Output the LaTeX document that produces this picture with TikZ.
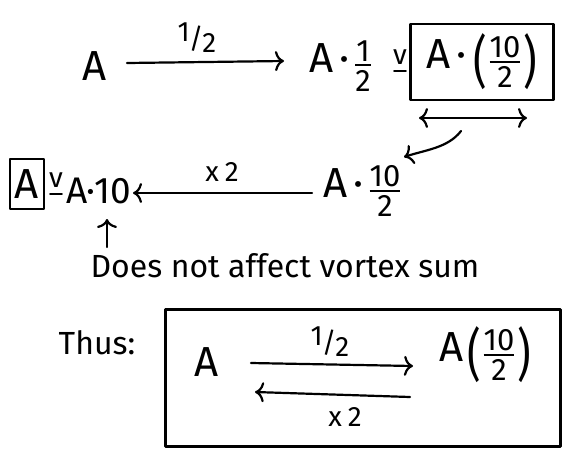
\documentclass[tikz,border=0pt]{standalone}
\usepackage{graphicx}
\usepackage{fontspec}
\setmainfont{Fira Sans}
\usetikzlibrary{arrows.meta}
\newcommand{\halfslash}{\raisebox{7pt}{1}\kern-1pt/\kern-1pt\raisebox{-4pt}{2}}
\newcommand{\myfr}[2]{\ensuremath{\vcenter{\offinterlineskip\halign{\hfil##\hfil\cr
  \fontsize{31}{32}\selectfont\vphantom{1}#1\cr\noalign{\kern3pt\hrule height 2pt\kern4pt}
  \fontsize{31}{32}\selectfont\vphantom{1}#2\cr}}}}
\newcommand{\bigp}[1]{\ensuremath{\vcenter{\hbox{\scalebox{1}[1.35]{#1}}}}}
\newcommand{\pfr}[2]{\ensuremath{\bigp{(}\kern3pt\myfr{#1}{#2}\kern3pt\bigp{)}}}
\newcommand{\cdt}{\kern6pt\textperiodcentered\kern6pt}
\begin{document}
\begin{tikzpicture}[x=1pt,y=-1pt, line width=2.2pt, line cap=round, line join=round,
  big/.style={font=\fontsize{42}{44}\selectfont, inner sep=0pt},
  lab/.style={font=\fontsize{28}{30}\selectfont, inner sep=0pt},
  note/.style={font=\fontsize{32}{34}\selectfont, inner sep=0pt},
  sq/.style={draw, line width=2.2pt, inner sep=0pt},
  arr/.style={-{To[length=9pt,width=20pt,line width=2.2pt]}},
  darr/.style={{To[length=9pt,width=20pt,line width=2.2pt]}-{To[length=9pt,width=20pt,line width=2.2pt]}}]
\useasboundingbox (0,0) rectangle (583,456);

% ---- row 1
\node[big] (a1) at (95,66) {A};
\node[big] (a2) at (340,66) {A\cdt\myfr{1}{2}};
\node[lab] (v1) at (400,57) {v};
\draw[line width=1.8pt] (394,71) -- (406,71);
\node[big, sq, minimum width=143pt, minimum height=76pt] (b1) at (482,62) {A\cdt\pfr{10}{2}};
\draw[arr] (127,63) coordinate (s1) -- (284,61) coordinate (e1);
\node[lab] (l1) at (197,38) {\halfslash};

\coordinate (d1) at (419,118);
\coordinate (d2) at (527,118);
\draw[darr] (d1) -- (d2);

\coordinate (c1) at (461,131);
\coordinate (c2) at (404,157);
\draw[arr] (c1) .. controls (448,148) and (425,150) .. (c2);

% ---- row 2
\node[big, sq, minimum width=34pt, minimum height=50pt] (a3) at (27,184) {A};
\node[lab] (v2) at (56,180) {v};
\draw[line width=1.8pt] (50,194) -- (62,194);
\node[big, font=\fontsize{37}{40}\selectfont] (a4) at (99,191) {A\kern-1pt\textperiodcentered\kern-1pt10};
\node[big] (a5) at (362,191) {A\cdt\myfr{10}{2}};
\draw[arr] (312,193) coordinate (s2) -- (133,193) coordinate (e2);
\node[lab] (l2) at (222,172) {x\kern6pt2};

\coordinate (u1) at (107,247);
\coordinate (u2) at (107,219);
\draw[arr] (u1) -- (u2);

\node[note] (t1) at (285,266) {Does not affect vortex sum};

% ---- thus
\node[note] (t2) at (97,343) {Thus:};
\node[sq, minimum width=395pt, minimum height=137pt] (b2) at (363,378) {};
\node[big] (a6) at (207,362) {A};
\node[big] (a7) at (485,355) {A\kern4pt\pfr{10}{2}};
\draw[arr] (251,363) coordinate (s3) -- (413,366) coordinate (e3);
\node[lab] (l3) at (330,342) {\halfslash};
\draw[arr] (410,397) coordinate (s4) -- (255,392) coordinate (e4);
\node[lab] (l4) at (345,417) {x\kern6pt2};
\end{tikzpicture}
\end{document}
